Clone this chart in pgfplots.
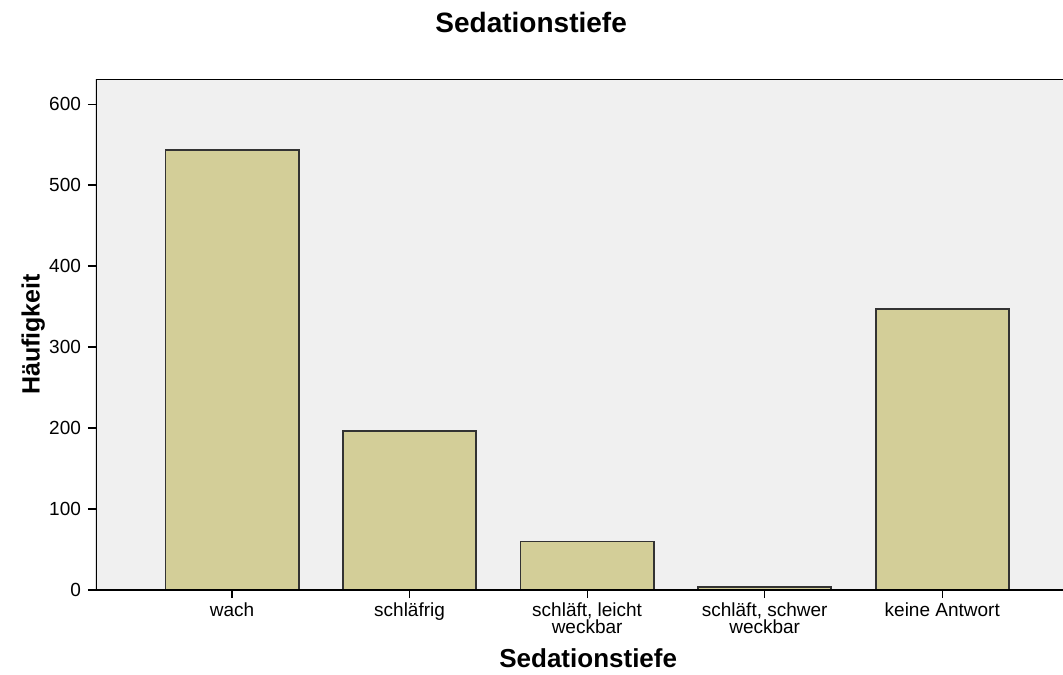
\documentclass[border=0pt]{standalone}
\usepackage{fontspec}
\setmainfont{Liberation Sans}
\usepackage{pgfplots}
\pgfplotsset{compat=1.18}

\definecolor{panelbg}{HTML}{F0F0F0}
\definecolor{barfill}{HTML}{D3CE98}
\definecolor{baredge}{HTML}{333333}

\begin{document}
\begin{tikzpicture}
\useasboundingbox (-48pt,-42pt) rectangle (483.5pt,295pt);
\begin{axis}[
    scale only axis,
    width=483.5pt, height=255.5pt,
    xmin=-0.766, xmax=4.68,
    ymin=0, ymax=631,
    axis background/.style={fill=panelbg},
    axis line style={draw=none},
    xtick={0,1,2,3,4},
    xticklabels={wach, schläfrig, {schläft, leicht\\weckbar}, {schläft, schwer\\weckbar}, keine Antwort},
    xticklabel style={align=center, font=\fontsize{9.5}{8.5}\selectfont, yshift=1pt},
    ytick={0,100,...,600},
    yticklabel style={font=\fontsize{9.5}{10}\selectfont},
    /pgf/number format/assume math mode=true,
    tick align=outside,
    xtick pos=lower, ytick pos=left,
    major tick length=4pt,
    tick style={black, line width=0.6pt},
    title={Sedationstiefe},
    title style={at={(rel axis cs:0.45,1)}, anchor=center, yshift=22.5pt, font=\fontsize{14}{15}\selectfont\bfseries},
    xlabel={Sedationstiefe},
    xlabel style={at={(rel axis cs:0.509,0)}, anchor=center, yshift=-34pt, font=\fontsize{13}{15}\selectfont\bfseries},
    ylabel={Häufigkeit},
    ylabel style={at={(axis description cs:-0.065,0.5)}, anchor=center, rotate=0, font=\fontsize{12.5}{14}\selectfont\bfseries},
]
\addplot[ybar, bar width=0.75, fill=barfill, draw=baredge, line width=0.9pt]
  coordinates {(0,543) (1,196) (2,60) (3,4) (4,347)};
\draw[black, line width=0.75pt] (rel axis cs:1,1) -- (rel axis cs:0,1) -- (rel axis cs:0,0) -- (rel axis cs:1,0);
\end{axis}
\end{tikzpicture}
\end{document}
